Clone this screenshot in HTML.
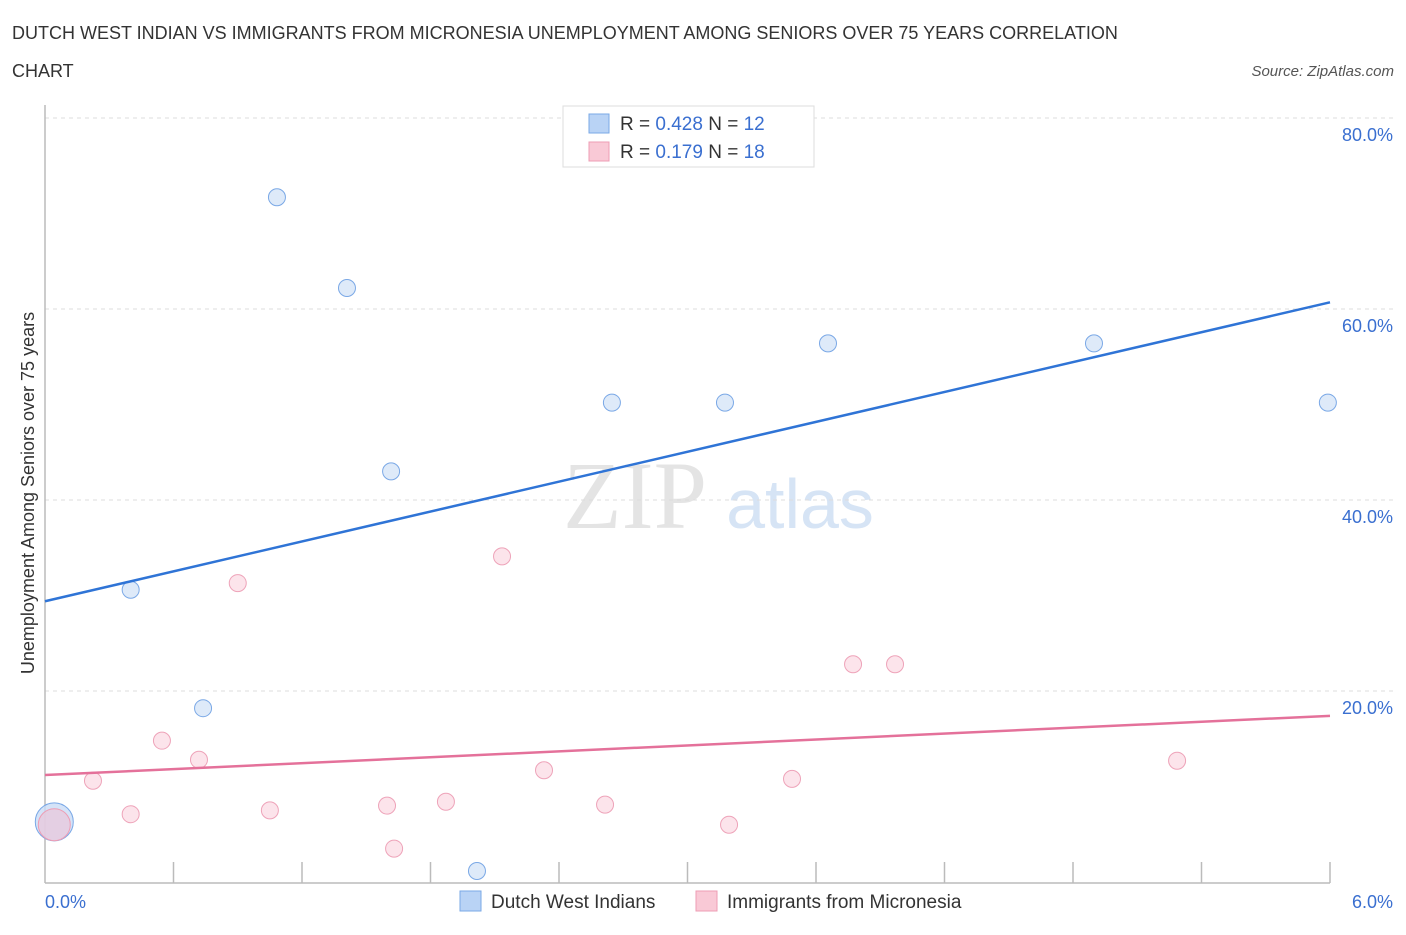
<!DOCTYPE html>
<html><head><meta charset="utf-8"><style>
body{margin:0;background:#fff;font-family:"Liberation Sans",sans-serif;}
</style></head><body>
<svg width="1406" height="930" xmlns="http://www.w3.org/2000/svg">
<text x="12" y="39" font-size="18" fill="#333">DUTCH WEST INDIAN VS IMMIGRANTS FROM MICRONESIA UNEMPLOYMENT AMONG SENIORS OVER 75 YEARS CORRELATION</text>
<text x="12" y="77" font-size="18" fill="#333">CHART</text>
<text x="1394" y="76" font-size="15" fill="#555" font-style="italic" text-anchor="end">Source: ZipAtlas.com</text>
<text x="635" y="528" font-size="96" fill="#e4e4e4" font-family="Liberation Serif,serif" text-anchor="middle">ZIP</text>
<text x="800" y="528" font-size="70" fill="#d6e4f5" text-anchor="middle">atlas</text>
<g id="grid"></g>
<line x1="45" y1="105" x2="45" y2="883" stroke="#bbb" stroke-width="1.5"/>
<line x1="45" y1="883" x2="1330" y2="883" stroke="#bbb" stroke-width="1.5"/>
<g id="marks"></g>
<text transform="translate(34,493) rotate(-90)" font-size="18" fill="#333" text-anchor="middle">Unemployment Among Seniors over 75 years</text>
<text x="45" y="908" font-size="18" fill="#3a6fd0">0.0%</text>
<text x="1393" y="908" font-size="18" fill="#3a6fd0" text-anchor="end">6.0%</text>
<g>
<rect x="563" y="106" width="251" height="61" fill="#fff" stroke="#ddd"/>
<rect x="589" y="114" width="20" height="19" fill="#b9d3f5" stroke="#7aa8e6"/>
<rect x="589" y="142" width="20" height="19" fill="#f9c9d6" stroke="#ee9db4"/>
<text x="620" y="130" font-size="19" fill="#333">R = <tspan fill="#3a6fd0">0.428</tspan>   N = <tspan fill="#3a6fd0">12</tspan></text>
<text x="620" y="158" font-size="19" fill="#333">R =  <tspan fill="#3a6fd0">0.179</tspan>   N = <tspan fill="#3a6fd0">18</tspan></text>
</g>
<g>
<rect x="460" y="891" width="21" height="20" fill="#b9d3f5" stroke="#7aa8e6"/>
<text x="491" y="908" font-size="19" fill="#333">Dutch West Indians</text>
<rect x="696" y="891" width="21" height="20" fill="#f9c9d6" stroke="#ee9db4"/>
<text x="727" y="908" font-size="19" fill="#333">Immigrants from Micronesia</text>
</g>
</svg>
<script>
const yTicks=[20,40,60,80];
const yTickLabels=["20.0%","40.0%","60.0%","80.0%"];
const xTicks=[0.6,1.2,1.8,2.4,3.0,3.6,4.2,4.8,5.4,6.0];
const blueX=[1.083,1.41,1.616,0.40,0.738,2.647,3.175,3.656,4.898,5.99,2.017];
const blueY=[71.7,62.2,43.0,30.6,18.2,50.2,50.2,56.4,56.4,50.2,1.15];
const pinkX=[0.224,0.40,0.546,0.719,0.90,1.05,1.597,1.63,1.872,2.134,2.33,2.615,3.194,3.488,3.773,3.969,5.286];
const pinkY=[10.6,7.1,14.8,12.8,31.3,7.5,8.0,3.5,8.4,34.1,11.7,8.1,6.0,10.8,22.8,22.8,12.7];
const bigBlue=[0.02,6.3];const bigPink=[0.02,6.0];
const blueLine=[29.4,60.7];const pinkLine=[11.2,17.4];
const NS="http://www.w3.org/2000/svg";
const sx=v=>45+v/6*1285, sy=v=>882-v*9.55;
function mk(t,a,p){const e=document.createElementNS(NS,t);for(const k in a)e.setAttribute(k,a[k]);p.appendChild(e);return e;}
const g=document.getElementById('grid'),m=document.getElementById('marks');
yTicks.forEach((v,i)=>{const l=mk('line',{x1:45,x2:1395,y1:sy(v),y2:sy(v),stroke:'#ddd','stroke-dasharray':'4,4'},g);


const t=mk('text',{x:1393,y:sy(v)+23,'font-size':18,fill:'#3a6fd0','text-anchor':'end'},g);t.textContent=yTickLabels[i];

});
xTicks.forEach(v=>{const l=mk('line',{x1:sx(v),x2:sx(v),y1:862,y2:883,stroke:'#bbb','stroke-width':1.5},g);

});
let c=mk('circle',{cx:sx(bigBlue[0])+5,cy:sy(bigBlue[1]),r:19,fill:'#c9dcf6','fill-opacity':0.8,stroke:'#7aa8e6'},m);


c=mk('circle',{cx:sx(bigPink[0])+5,cy:sy(bigPink[1]),r:16,fill:'#e7c9dd','fill-opacity':0.8,stroke:'#ee9db4'},m);


pinkX.forEach((x,i)=>{const e=mk('circle',{cx:sx(x),cy:sy(pinkY[i]),r:8.5,fill:'#fbdde6','fill-opacity':0.8,stroke:'#eea3b9'},m);

});
blueX.forEach((x,i)=>{const e=mk('circle',{cx:sx(x),cy:sy(blueY[i]),r:8.5,fill:'#d6e5f8','fill-opacity':0.8,stroke:'#7aa8e6'},m);

});
let l=mk('line',{x1:sx(0),y1:sy(blueLine[0]),x2:sx(6),y2:sy(blueLine[1]),stroke:'#2f74d6','stroke-width':2.5},m);


l=mk('line',{x1:sx(0),y1:sy(pinkLine[0]),x2:sx(6),y2:sy(pinkLine[1]),stroke:'#e4719a','stroke-width':2.5},m);


</script>
</body></html>
